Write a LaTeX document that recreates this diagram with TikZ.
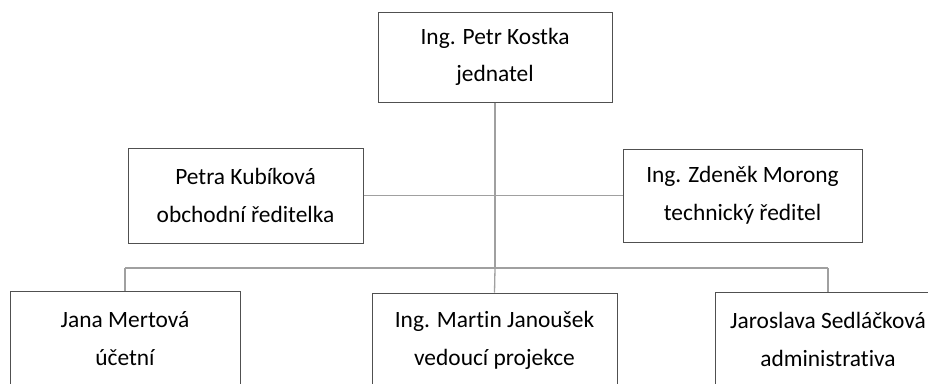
\documentclass[tikz,border=0pt]{standalone}
\usepackage{fontspec}
\setmainfont[Ligatures=NoCommon]{Carlito}
\begin{document}
\begin{tikzpicture}[x=1pt,y=-1pt,
  box/.style={draw={rgb,255:red,80;green,80;blue,80}, line width=1pt, fill=white, align=center,
    inner sep=0pt, font=\fontsize{23.4}{38.5}\selectfont},
  conn/.style={draw={rgb,255:red,160;green,160;blue,160}, line width=1.3pt}]
\useasboundingbox (0,0) rectangle (928,383);
\fill[white] (0,0) rectangle (928,383);
\coordinate (j1) at (495,196);
\coordinate (j2) at (495,268);
\node[box, minimum width=234pt, minimum height=90pt] (top) at (495,57) {\raisebox{-2pt}{Ing. Petr Kostka}\\jednatel};
\node[box, minimum width=235pt, minimum height=95pt] (left) at (245.5,195.5) {Petra Kubíková\\obchodní ředitelka};
\node[box, minimum width=239pt, minimum height=93pt] (right) at (742.5,195.5) {Ing. Zdeněk Morong\\technický ředitel};
\node[box, minimum width=230pt, minimum height=95pt] (b1) at (125,338.5) {Jana Mertová\\účetní};
\node[box, minimum width=245pt, minimum height=95pt] (b2) at (494.5,340.5) {Ing. Martin Janoušek\\vedoucí projekce};
\node[box, minimum width=226pt, minimum height=95pt] (b3) at (828,339.5) {Jaroslava Sedláčková\\administrativa};
\draw[conn] (top.south) -- (j2);
\draw[conn] (left.east) -- (right.west);
\draw[conn] (b1.north |- j2) -- (b3.north |- j2);
\draw[conn] (b1.north |- j2) -- (b1.north);
\draw[conn] (j2) -- (b2.north);
\draw[conn] (b3.north |- j2) -- (b3.north);
\end{tikzpicture}
\end{document}
